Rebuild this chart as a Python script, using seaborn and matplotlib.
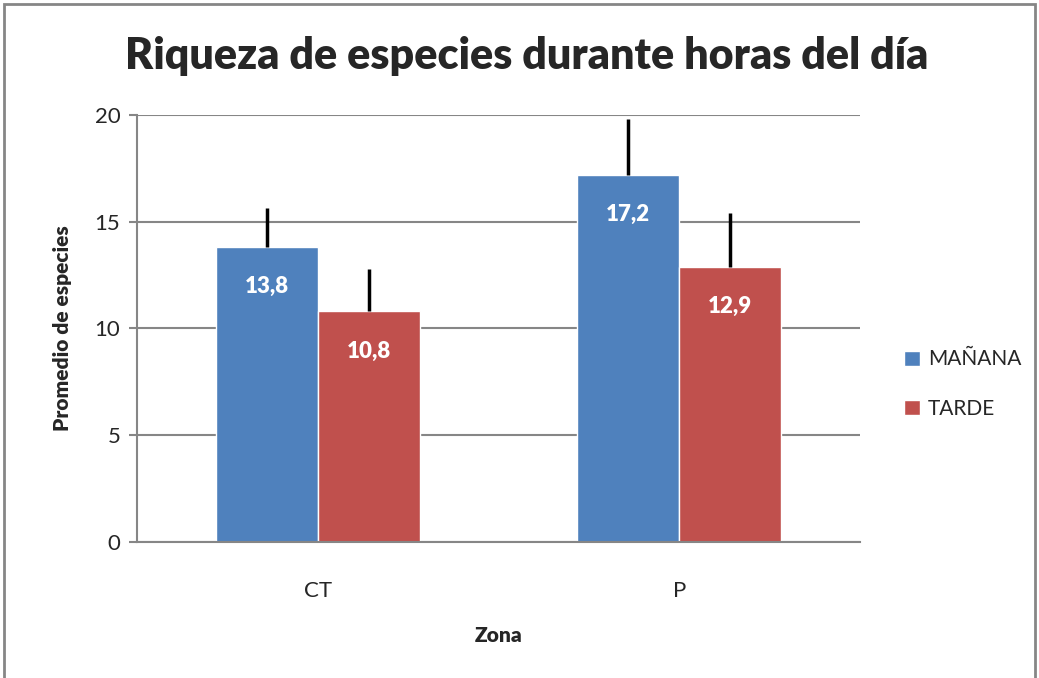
import pandas as pd
import numpy as np
import matplotlib.pyplot as plt
import seaborn as sns
from matplotlib.patches import Rectangle

# -----------------------------
# Data
# -----------------------------
zonas = ["CT", "P"]
series = ["MAÑANA", "TARDE"]
manana = [13.8, 17.2]
tarde = [10.8, 12.9]
err_manana = [1.85, 2.6]
err_tarde = [2.0, 2.5]
y_ticks = [0, 5, 10, 15, 20]

colors = {"MAÑANA": "#4F81BD", "TARDE": "#C0504D"}


def main():
    df = pd.DataFrame({
        "Zona": zonas * 2,
        "Serie": [series[0]] * len(zonas) + [series[1]] * len(zonas),
        "Promedio": manana + tarde,
        "Error": err_manana + err_tarde,
    })

    sns.set_theme(style="white")
    plt.rcParams["font.family"] = ["Lato", "DejaVu Sans"]

    fig = plt.figure(figsize=(10.39, 6.78), dpi=100)
    ax = fig.add_axes([137 / 1039, 1 - 542 / 678, 723 / 1039, 427 / 678])

    sns.barplot(data=df, x="Zona", y="Promedio", hue="Serie",
                palette=colors, width=0.565, errorbar=None,
                saturation=1, ax=ax, legend=True)

    # error bars (plus direction only) and value labels
    for container, name in zip(ax.containers, series):
        sub = df[df["Serie"] == name]
        xs = [p.get_x() + p.get_width() / 2 for p in container]
        vals = sub["Promedio"].to_numpy()
        errs = sub["Error"].to_numpy()
        ax.errorbar(xs, vals, yerr=[np.zeros_like(errs), errs],
                    fmt="none", ecolor="black", elinewidth=2.5,
                    capsize=0, zorder=3)
        ax.bar_label(container, labels=[f"{v:.1f}".replace(".", ",") for v in vals],
                     label_type="edge", padding=-36, color="white",
                     fontsize=16, fontweight="heavy")

    ax.set_ylim(0, 20)
    ax.set_yticks(y_ticks)
    ax.set_xlim(-0.5, 1.5)
    ax.yaxis.grid(True, color="#868686", linewidth=1.5)
    ax.set_axisbelow(True)
    for side in ["top", "right"]:
        ax.spines[side].set_visible(False)
    ax.spines["left"].set_color("#868686")
    ax.spines["bottom"].set_color("#868686")
    ax.spines["left"].set_linewidth(1.5)
    ax.spines["bottom"].set_linewidth(1.5)
    ax.tick_params(axis="y", left=True, length=6, width=1.5, color="#868686",
                   labelsize=16, pad=6)
    ax.tick_params(axis="x", bottom=False, labelsize=16, pad=22)

    ax.set_xlabel("Zona", fontsize=15, fontweight="heavy", labelpad=18)
    ax.set_ylabel("Promedio de especies", fontsize=15, fontweight="heavy", labelpad=16)

    fig.text(0.507, 1 - 56 / 678, "Riqueza de especies durante horas del día",
             ha="center", va="center", fontsize=31, fontweight="heavy")

    ax.legend(loc="center left", bbox_to_anchor=(1.035, 0.37),
              frameon=False, fontsize=15, handlelength=0.75,
              handleheight=0.75, handletextpad=0.4, labelspacing=1.4)

    fig.patches.append(Rectangle((4 / 1039, -0.02), 1031 / 1039, 1 - 4 / 678 + 0.02,
                                 transform=fig.transFigure, fill=False,
                                 edgecolor="#868686", linewidth=2))

    fig.savefig("out.png", dpi=100)
    plt.close(fig)


if __name__ == "__main__":
    main()
